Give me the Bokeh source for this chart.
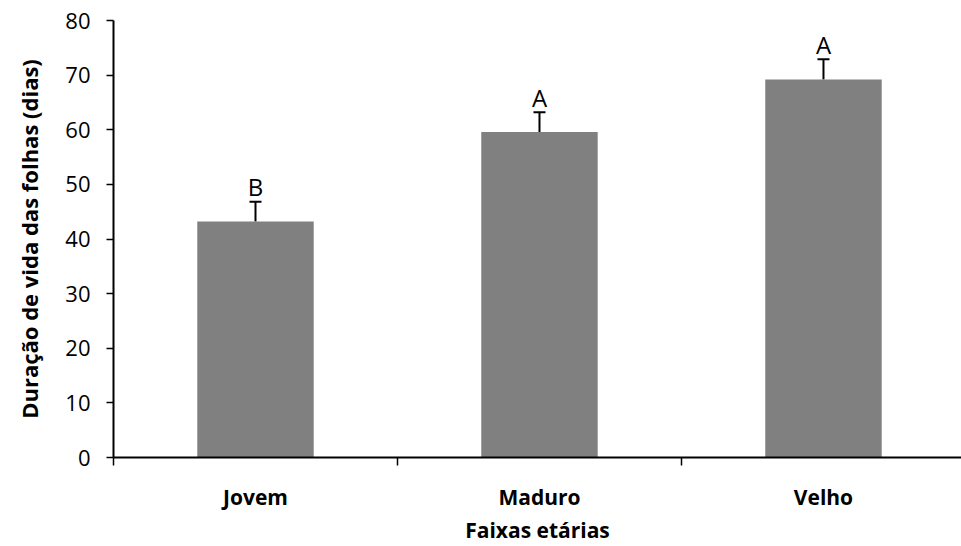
from bokeh.plotting import figure
from bokeh.models import ColumnDataSource, FixedTicker, Range1d, Whisker, TeeHead
from bokeh.core.properties import value
from bokeh.embed import file_html
from bokeh.resources import INLINE

categories = ["Jovem", "Maduro", "Velho"]
means = [43.2, 59.6, 69.2]
errors = [3.6, 3.6, 3.7]
letters = ["B", "A", "A"]
y_ticks = [0, 10, 20, 30, 40, 50, 60, 70, 80]

xpos = [i + 0.5 for i in range(len(categories))]
tops = [m + e for m, e in zip(means, errors)]
src = ColumnDataSource(dict(x=xpos, m=means, top=tops, lab=letters))

FONT = "Open Sans"

p = figure(width=961, height=546, output_backend="svg", toolbar_location=None,
           x_range=Range1d(0, 2.986), y_range=Range1d(0, 80),
           min_border_left=113, min_border_right=0, min_border_top=20, min_border_bottom=87)
p.outline_line_color = None
p.grid.visible = False
p.background_fill_color = "white"
p.border_fill_color = "white"

p.vbar(x="x", top="m", bottom=0, width=0.41, source=src, fill_color="#808080", line_color=None)

w = Whisker(base="x", upper="top", lower="m", source=src, line_color="black", line_width=2,
            upper_head=TeeHead(size=12, line_color="black", line_width=2), lower_head=None)
p.add_layout(w)

p.text(x="x", y="top", text="lab", source=src, text_align="center", text_baseline="middle",
       y_offset=-15, text_font=value(FONT), text_font_size="24px", text_color="black")

# y axis
p.yaxis.ticker = FixedTicker(ticks=y_ticks)
p.yaxis.axis_line_width = 2
p.yaxis.axis_line_color = "black"
p.yaxis.major_tick_in = 0
p.yaxis.major_tick_out = 7
p.yaxis.major_tick_line_width = 1.5
p.yaxis.minor_tick_line_color = None
p.yaxis.major_label_text_font = FONT
p.yaxis.major_label_text_font_size = "22px"
p.yaxis.major_label_text_color = "black"
p.yaxis.major_label_standoff = 16
p.yaxis.axis_label = "Duração de vida das folhas (dias)"
p.yaxis.axis_label_text_font = FONT
p.yaxis.axis_label_text_font_style = "bold"
p.yaxis.axis_label_text_font_size = "22px"
p.yaxis.axis_label_text_color = "black"
p.yaxis.axis_label_standoff = 18

# x axis
p.xaxis.ticker = FixedTicker(ticks=xpos, minor_ticks=list(range(len(categories) + 1)))
p.xaxis.major_label_overrides = {x: c for x, c in zip(xpos, categories)}
p.xaxis.axis_line_width = 2
p.xaxis.axis_line_color = "black"
p.xaxis.major_tick_line_color = None
p.xaxis.major_tick_out = 0
p.xaxis.major_tick_in = 0
p.xaxis.minor_tick_in = 0
p.xaxis.minor_tick_out = 8
p.xaxis.minor_tick_line_width = 1.5
p.xaxis.minor_tick_line_color = "black"
p.xaxis.major_label_text_font = FONT
p.xaxis.major_label_text_font_style = "bold"
p.xaxis.major_label_text_font_size = "21px"
p.xaxis.major_label_text_color = "black"
p.xaxis.major_label_standoff = 17
p.xaxis.axis_label = "Faixas etárias"
p.xaxis.axis_label_text_font = FONT
p.xaxis.axis_label_text_font_style = "bold"
p.xaxis.axis_label_text_font_size = "21px"
p.xaxis.axis_label_text_color = "black"
p.xaxis.axis_label_standoff = 2

open("out.html", "w").write(file_html(p, INLINE))
